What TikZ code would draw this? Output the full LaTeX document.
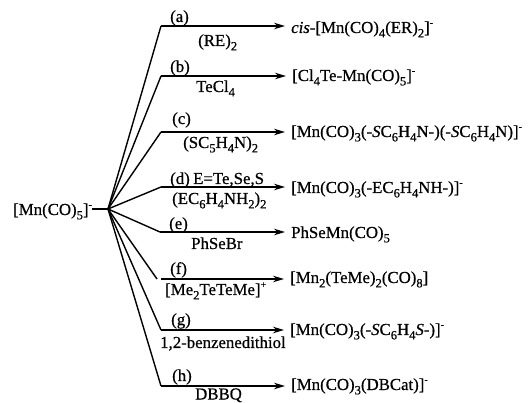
\documentclass[tikz,border=0pt]{standalone}
\usepackage{fontspec}
\setmainfont{Liberation Serif}[FakeBold=0.6]
\usetikzlibrary{arrows.meta}
\newcommand{\su}[1]{\raisebox{-0.26em}{\fontsize{12.6}{13}\selectfont #1}}
\newcommand{\up}[1]{\raisebox{0.42em}{\fontsize{10}{10}\selectfont #1}}
\tikzset{
  txt/.style={anchor=base west,inner sep=0pt,font=\fontsize{16.8}{18}\selectfont,text=black},
  bond/.style={draw=black,line width=1.4pt,line join=miter},
  rxn/.style={draw=black,line width=1.3pt,-{Stealth[length=11pt,width=6.5pt]},shorten >=6pt},
}
\begin{document}
\begin{tikzpicture}[x=1pt,y=-1pt]
\useasboundingbox (0,0) rectangle (528,403);
\node[txt] (src) at (13,215) {[Mn(CO)\su{5}]\up{-}};
\coordinate (hub) at (108,209);
\coordinate (ka) at (161,26);
\coordinate (kb) at (161,76);
\coordinate (kc) at (161,132);
\coordinate (kd) at (161,187);
\coordinate (ke) at (160,232);
\coordinate (kf) at (157,279);
\coordinate (kfs) at (161,279);
\coordinate (kg) at (161,330);
\coordinate (kh) at (161,386);
\node[txt] (ra) at (291,33) {\textit{cis}-[Mn(CO)\su{4}(ER)\su{2}]\up{-}};
\node[txt] (rb) at (292,81) {[Cl\su{4}Te-Mn(CO)\su{5}]\up{-}};
\node[txt] (rc) at (291,137) {[Mn(CO)\su{3}(-\textit{S}C\su{6}H\su{4}N-)(-\textit{S}C\su{6}H\su{4}N)]\up{-}};
\node[txt] (rd) at (291,193) {[Mn(CO)\su{3}(-EC\su{6}H\su{4}NH-)]\up{-}};
\node[txt] (re) at (291,238) {PhSeMn(CO)\su{5}};
\node[txt] (rf) at (290,283) {[Mn\su{2}(TeMe)\su{2}(CO)\su{8}]};
\node[txt] (rg) at (290,335) {[Mn(CO)\su{3}(-\textit{S}C\su{6}H\su{4}\textit{S}-)]\up{-}};
\node[txt] (rh) at (291,390) {[Mn(CO)\su{3}(DBCat)]\up{-}};
\node[txt] (la) at (170,22) {(a)};
\node[txt] (lb) at (170,72) {(b)};
\node[txt] (lc) at (172,124) {(c)};
\node[txt] (ld) at (170,184) {(d)};
\node[txt] (ldx) at (193,184) {E=Te,Se,S};
\node[txt] (le) at (169,229) {(e)};
\node[txt] (lf) at (170,274) {(f)};
\node[txt] (lg) at (171,325) {(g)};
\node[txt] (lh) at (172,381) {(h)};
\node[txt] (ma) at (198,46) {(RE)\su{2}};
\node[txt] (mb) at (196,92) {TeCl\su{4}};
\node[txt] (mc) at (183,148) {(SC\su{5}H\su{4}N)\su{2}};
\node[txt] (md) at (172,204) {(EC\su{6}H\su{4}NH\su{2})\su{2}};
\node[txt] (me) at (191,249) {PhSeBr};
\node[txt] (mf) at (165,295) {[Me\su{2}TeTeMe]\up{+}};
\node[txt] (mg) at (160,348) {1,2-benzenedithiol};
\node[txt] (mh) at (195,399.5) {DBBQ};
\draw[bond] (src.east |- hub) -- (hub);
\draw[bond] (hub) -- (ka);
\draw[bond] (hub) -- (kb);
\draw[bond] (hub) -- (kc);
\draw[bond] (hub) -- (kd);
\draw[bond] (hub) -- (ke);
\draw[bond] (hub) -- (kf);
\draw[bond] (hub) -- (kg);
\draw[bond] (hub) -- (kh);
\draw[rxn] (ka) -- (ka -| ra.west);
\draw[rxn] (kb) -- (kb -| rb.west);
\draw[rxn] (kc) -- (kc -| rc.west);
\draw[rxn] (kd) -- (kd -| rd.west);
\draw[rxn] (ke) -- (ke -| re.west);
\draw[rxn] (kfs) -- (kfs -| rf.west);
\draw[rxn] (kg) -- (kg -| rg.west);
\draw[rxn] (kh) -- (kh -| rh.west);
\end{tikzpicture}
\end{document}
